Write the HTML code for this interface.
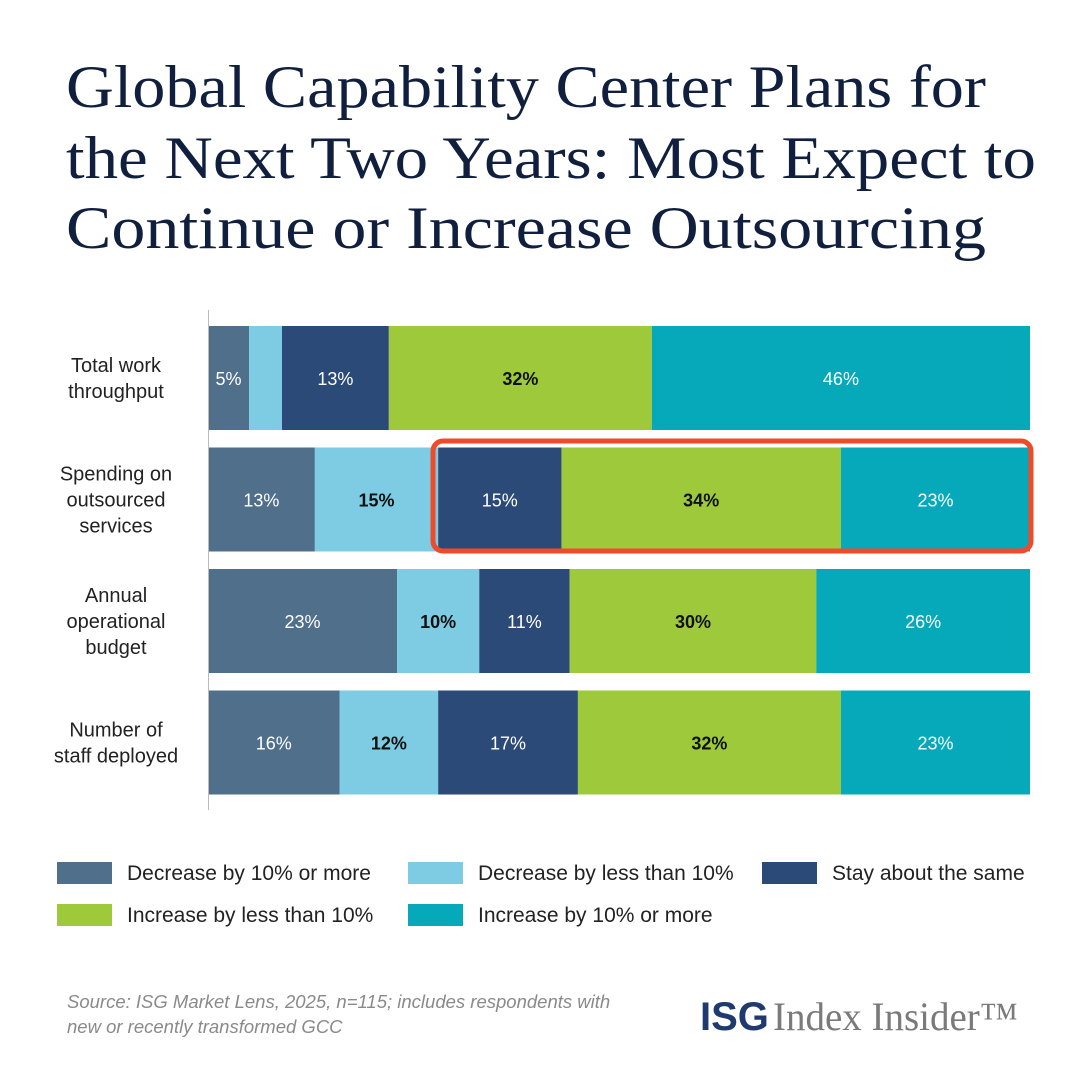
<!DOCTYPE html>
<html><head><meta charset="utf-8"><style>
body{margin:0;background:#fff;}
svg{display:block;}
</style></head><body>
<svg id="chart" width="1081" height="1080" xmlns="http://www.w3.org/2000/svg">
<g font-family="'Liberation Serif', serif" font-size="60" fill="#0f1f3d">
<text x="66" y="107" textLength="920" lengthAdjust="spacingAndGlyphs">Global Capability Center Plans for</text>
<text x="66" y="178" textLength="970" lengthAdjust="spacingAndGlyphs">the Next Two Years: Most Expect to</text>
<text x="66" y="248" textLength="920" lengthAdjust="spacingAndGlyphs">Continue or Increase Outsourcing</text>
</g>
<g id="bars"></g>
<line x1="208.5" y1="310" x2="208.5" y2="810" stroke="#bbb" stroke-width="1"/>
<rect x="433" y="441" width="598" height="110" rx="10" fill="none" stroke="#f04a2a" stroke-width="5"/>
<g id="legend" font-family="'Liberation Sans', sans-serif" font-size="21" fill="#222"></g>
<g font-family="'Liberation Sans', sans-serif" font-size="18.5" font-style="italic" fill="#8a8a8a">
<text x="67" y="1008">Source: ISG Market Lens, 2025, n=115; includes respondents with</text>
<text x="67" y="1033">new or recently transformed GCC</text>
</g>
<g>
<text x="700" y="1030" font-family="'Liberation Sans', sans-serif" font-weight="bold" font-size="40" fill="#1e3a6e">ISG</text>
<text x="773" y="1030" font-family="'Liberation Serif', serif" font-size="40" fill="#7a7a7a" textLength="245" lengthAdjust="spacingAndGlyphs">Index Insider™</text>
</g>
</svg>
<script>
const categories = [["Total work","throughput"],["Spending on","outsourced","services"],["Annual","operational","budget"],["Number of","staff deployed"]];
const seriesNames = ["Decrease by 10% or more","Decrease by less than 10%","Stay about the same","Increase by less than 10%","Increase by 10% or more"];
const decrease10 = [5,13,23,16];
const decreaseLess = [4,15,10,12];
const stay = [13,15,11,17];
const increaseLess = [32,34,30,32];
const increase10 = [46,23,26,23];
const showLabel = [[true,false,true,true,true],[true,true,true,true,true],[true,true,true,true,true],[true,true,true,true,true]];

const colors = ["#4f6f8a","#7ecce3","#2b4a78","#9dc93b","#05a9ba"];
const textColors = ["#fff","#111","#fff","#111","#fff"];
const NS="http://www.w3.org/2000/svg";
const x0=208, xw=822, rowTop=326, rowStep=121.5, barH=104;
const xs = v => x0 + v/100*xw;
const series=[decrease10,decreaseLess,stay,increaseLess,increase10];
const bars=document.getElementById('bars');
categories.forEach((cat,i)=>{
  const y=rowTop+i*rowStep;
  let cum=0;
  series.forEach((s,j)=>{
    const v=s[i];
    const r=document.createElementNS(NS,'rect');
    r.setAttribute('x',xs(cum));r.setAttribute('y',y);
    r.setAttribute('width',xs(cum+v)-xs(cum));r.setAttribute('height',barH);
    r.setAttribute('fill',colors[j]);
    
    
    bars.appendChild(r);
    if(showLabel[i][j]){
      const t=document.createElementNS(NS,'text');
      t.setAttribute('x',(xs(cum)+xs(cum+v))/2);t.setAttribute('y',y+barH/2+7);
      t.setAttribute('text-anchor','middle');t.setAttribute('fill',textColors[j]);
      t.setAttribute('font-family',"'Liberation Sans', sans-serif");t.setAttribute('font-size','18');
      t.setAttribute('font-weight',(j==1||j==3)?'bold':'normal');
      t.textContent=v+'%';
      
      
      bars.appendChild(t);
    }
    cum+=v;
  });
  const lines=cat.length, lh=26, cy=y+barH/2;
  cat.forEach((ln,k)=>{
    const t=document.createElementNS(NS,'text');
    t.setAttribute('x',116);t.setAttribute('y',cy-(lines-1)*lh/2+k*lh+7);
    t.setAttribute('text-anchor','middle');t.setAttribute('fill','#222');
    t.setAttribute('font-family',"'Liberation Sans', sans-serif");t.setAttribute('font-size','20');
    t.textContent=ln;
    
    
    bars.appendChild(t);
  });
});
const lg=document.getElementById('legend');
const lpos=[[57,862],[408,862],[762,862],[57,904],[408,904]];
seriesNames.forEach((n,j)=>{
  const [lx,ly]=lpos[j];
  const r=document.createElementNS(NS,'rect');
  r.setAttribute('x',lx);r.setAttribute('y',ly);r.setAttribute('width',55);r.setAttribute('height',22);
  r.setAttribute('fill',colors[j]);
  
  
  lg.appendChild(r);
  const t=document.createElementNS(NS,'text');
  t.setAttribute('x',lx+70);t.setAttribute('y',ly+18);t.textContent=n;
  
  
  lg.appendChild(t);
});
</script>
</body></html>
